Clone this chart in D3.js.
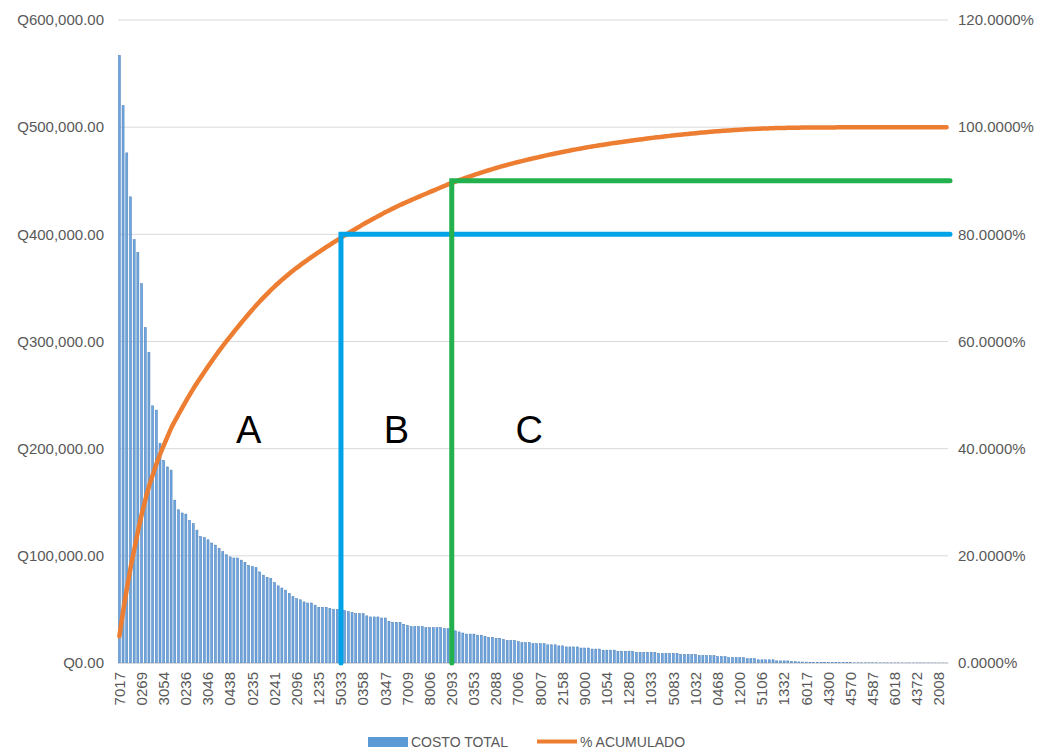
<!DOCTYPE html>
<html>
<head>
<meta charset="utf-8">
<script src="https://cdn.jsdelivr.net/npm/d3@7"></script>
<style>
  html, body { margin: 0; padding: 0; background: #ffffff; }
  svg { display: block; font-family: "Liberation Sans", Arial, sans-serif; }
</style>
</head>
<body>
<svg id="chart" width="1047" height="752"></svg>
<script>
// ---- DATA ----
// COSTO TOTAL per product, in thousands of quetzales, sorted descending
const costoTotalMiles = [
  567,520,476,435,395,383,354,313,290,240,236,
  205,189,183,180,152,143,140,139,133,130,
  124,118,117,115,112,110,107,104,101,99,
  98,98,96,94,91,90,89,85,82,80,
  79,75,72,70,68,65,62,60,59,57,
  56,56,54,52,52,52,51,50,50,49,
  49,48,47,46,46,46,44,43,43,43,
  42,42,39,38,38,38,36,35,34,34,
  34,34,33,33,33,33,33,32,32,32,
  30,29,28,27,27,27,26,26,25,24,
  24,23,23,22,21,21,21,20,19,19,
  19,18,18,18,18,17,17,17,16,16,
  15,15,15,15,14,14,14,13,13,13,
  12,12,12,12,11,11,11,11,11,10,
  10,10,10,10,10,9,9,9,9,9,
  9,8,8,8,8,8,7,7,7,7,
  7,6,6,6,5,5,5,5,5,4,
  4,4,3,3,3,3,3,2,2,2,
  2,1.5,1.2,1,0.9,0.8,0.7,0.6,0.5,0.5,
  0.4,0.4,0.4,0.3,0.3,0.3,0.3,0.3,0.2,0.2,
  0.2,0.2,0.2,0.2,0.2,0.15,0.15,0.15,0.15,0.1,
  0.1,0.1,0.1,0.1,0.1,0.1,0.08,0.08,0.08,0.06,0.06,0.05,0.05,0.04
];
// product codes shown on the category axis (one every 6 products)
const tickLabels = ["7017","0269","3054","0236","3046","0438","0235","0241","2096","1235",
  "5033","0358","0347","7009","8006","2093","0353","2088","7006","8007",
  "2158","9000","1054","1280","1033","5083","1032","0468","1200","5106",
  "1332","6017","4300","4570","4587","6018","4372","2008"];
const tickInterval = 6;
const leftTicks = [0, 100000, 200000, 300000, 400000, 500000, 600000];
const rightTicks = [0, 0.2, 0.4, 0.6, 0.8, 1.0, 1.2];
// ABC cut-offs: product code where the zone ends and the cumulative share
const cutCodes = ["5033", "2093"];
const cutShares = [0.8, 0.9];
const cutColors = ["#00a2e8", "#22b14c"];
// zone letters and the product index they are centred on
const zoneLetters = ["A", "B", "C"];
const zoneLetterCodes = [35, 75, 111];
const seriesNames = ["COSTO TOTAL", "% ACUMULADO"];

// ---- DERIVED ----
const costo = costoTotalMiles.map(v => v * 1000);
const total = d3.sum(costo);
let run = 0;
const acumulado = costo.map(v => (run += v) / total);
const idx = d3.range(costo.length);

// ---- LAYOUT ----
const svg = d3.select("#chart");
const plot = { left: 118, right: 948, top: 20, bottom: 663 };

const x = d3.scaleBand().domain(idx).range([plot.left, plot.right]).paddingInner(0.45).paddingOuter(0.1);
const xc = i => x(i) + x.bandwidth() / 2;
const yL = d3.scaleLinear().domain([0, 600000]).range([plot.bottom, plot.top]);
const yR = d3.scaleLinear().domain([0, 1.2]).range([plot.bottom, plot.top]);

const axisColor = "#595959";

// gridlines
svg.append("g").selectAll("line").data(leftTicks).join("line")
  .attr("x1", plot.left).attr("x2", plot.right)
  .attr("y1", d => yL(d)).attr("y2", d => yL(d))
  .attr("stroke", "#d9d9d9").attr("stroke-width", 1);

// left axis
const fmtQ = d => "Q" + d3.format(",.2f")(d);
const gL = svg.append("g").attr("transform", `translate(${plot.left},0)`)
  .call(d3.axisLeft(yL).tickValues(leftTicks).tickFormat(fmtQ).tickSize(0).tickPadding(14));
gL.select(".domain").remove();
gL.selectAll("text").attr("fill", axisColor).style("font-size", "15px")
  .style("font-family", "'Liberation Sans', Arial, sans-serif");

// right axis
const fmtP = d => d3.format(".4f")(d * 100) + "%";
const gR = svg.append("g").attr("transform", `translate(${plot.right},0)`)
  .call(d3.axisRight(yR).tickValues(rightTicks).tickFormat(fmtP).tickSize(0).tickPadding(10));
gR.select(".domain").remove();
gR.selectAll("text").attr("fill", axisColor).style("font-size", "15px")
  .style("font-family", "'Liberation Sans', Arial, sans-serif");

// bars
svg.append("g").selectAll("rect").data(costo).join("rect")
  .attr("x", (d, i) => x(i))
  .attr("width", x.bandwidth())
  .attr("y", d => yL(d))
  .attr("height", d => plot.bottom - yL(d))
  .attr("fill", "#6fa6dd")
  .attr("stroke", "#4a7ebb").attr("stroke-width", 0.5);

// bottom axis
const tickIdx = tickLabels.map((t, k) => k * tickInterval);
const gB = svg.append("g").attr("transform", `translate(0,${plot.bottom})`)
  .call(d3.axisBottom(x).tickValues(tickIdx).tickFormat(i => tickLabels[i / tickInterval]).tickSize(0).tickPadding(0));
gB.select(".domain").attr("stroke", "#d9d9d9");
gB.selectAll("text")
  .attr("fill", axisColor).style("font-size", "15px")
  .style("font-family", "'Liberation Sans', Arial, sans-serif")
  .attr("text-anchor", "end")
  .attr("dy", "0.35em")
  .attr("transform", "translate(0,9) rotate(-90)")
  .attr("x", 0).attr("y", 0);

// cumulative curve
svg.append("path").datum(acumulado)
  .attr("fill", "none").attr("stroke", "#ed7d31").attr("stroke-width", 4.5)
  .attr("stroke-linecap", "round").attr("stroke-linejoin", "round")
  .attr("d", d3.line().x((d, i) => xc(i)).y(d => yR(d)).curve(d3.curveMonotoneX));

// ABC cut-off lines
cutCodes.forEach((code, k) => {
  const ci = tickLabels.indexOf(code) * tickInterval;
  const px = xc(ci), py = yR(cutShares[k]);
  svg.append("path")
    .attr("d", `M${px},${plot.bottom}L${px},${py}L${plot.right + 2},${py}`)
    .attr("fill", "none").attr("stroke", cutColors[k]).attr("stroke-width", 5)
    .attr("stroke-linecap", "round").attr("stroke-linejoin", "miter");
});

// zone letters
svg.append("g").selectAll("text").data(zoneLetters).join("text")
  .attr("x", (d, k) => xc(zoneLetterCodes[k]))
  .attr("y", yR(0.41))
  .attr("text-anchor", "middle")
  .style("font-size", "38px")
  .attr("fill", "#000")
  .text(d => d);

// legend
const lg = svg.append("g");
lg.append("rect").attr("x", 368).attr("y", 737).attr("width", 40).attr("height", 10).attr("fill", "#5b9bd5");
lg.append("text").attr("x", 411).attr("y", 747).attr("fill", axisColor).style("font-size", "14px").text(seriesNames[0]);
lg.append("line").attr("x1", 537).attr("x2", 577).attr("y1", 741.5).attr("y2", 741.5)
  .attr("stroke", "#ed7d31").attr("stroke-width", 4);
lg.append("text").attr("x", 580).attr("y", 747).attr("fill", axisColor).style("font-size", "14px").text(seriesNames[1]);
</script>
</body>
</html>
